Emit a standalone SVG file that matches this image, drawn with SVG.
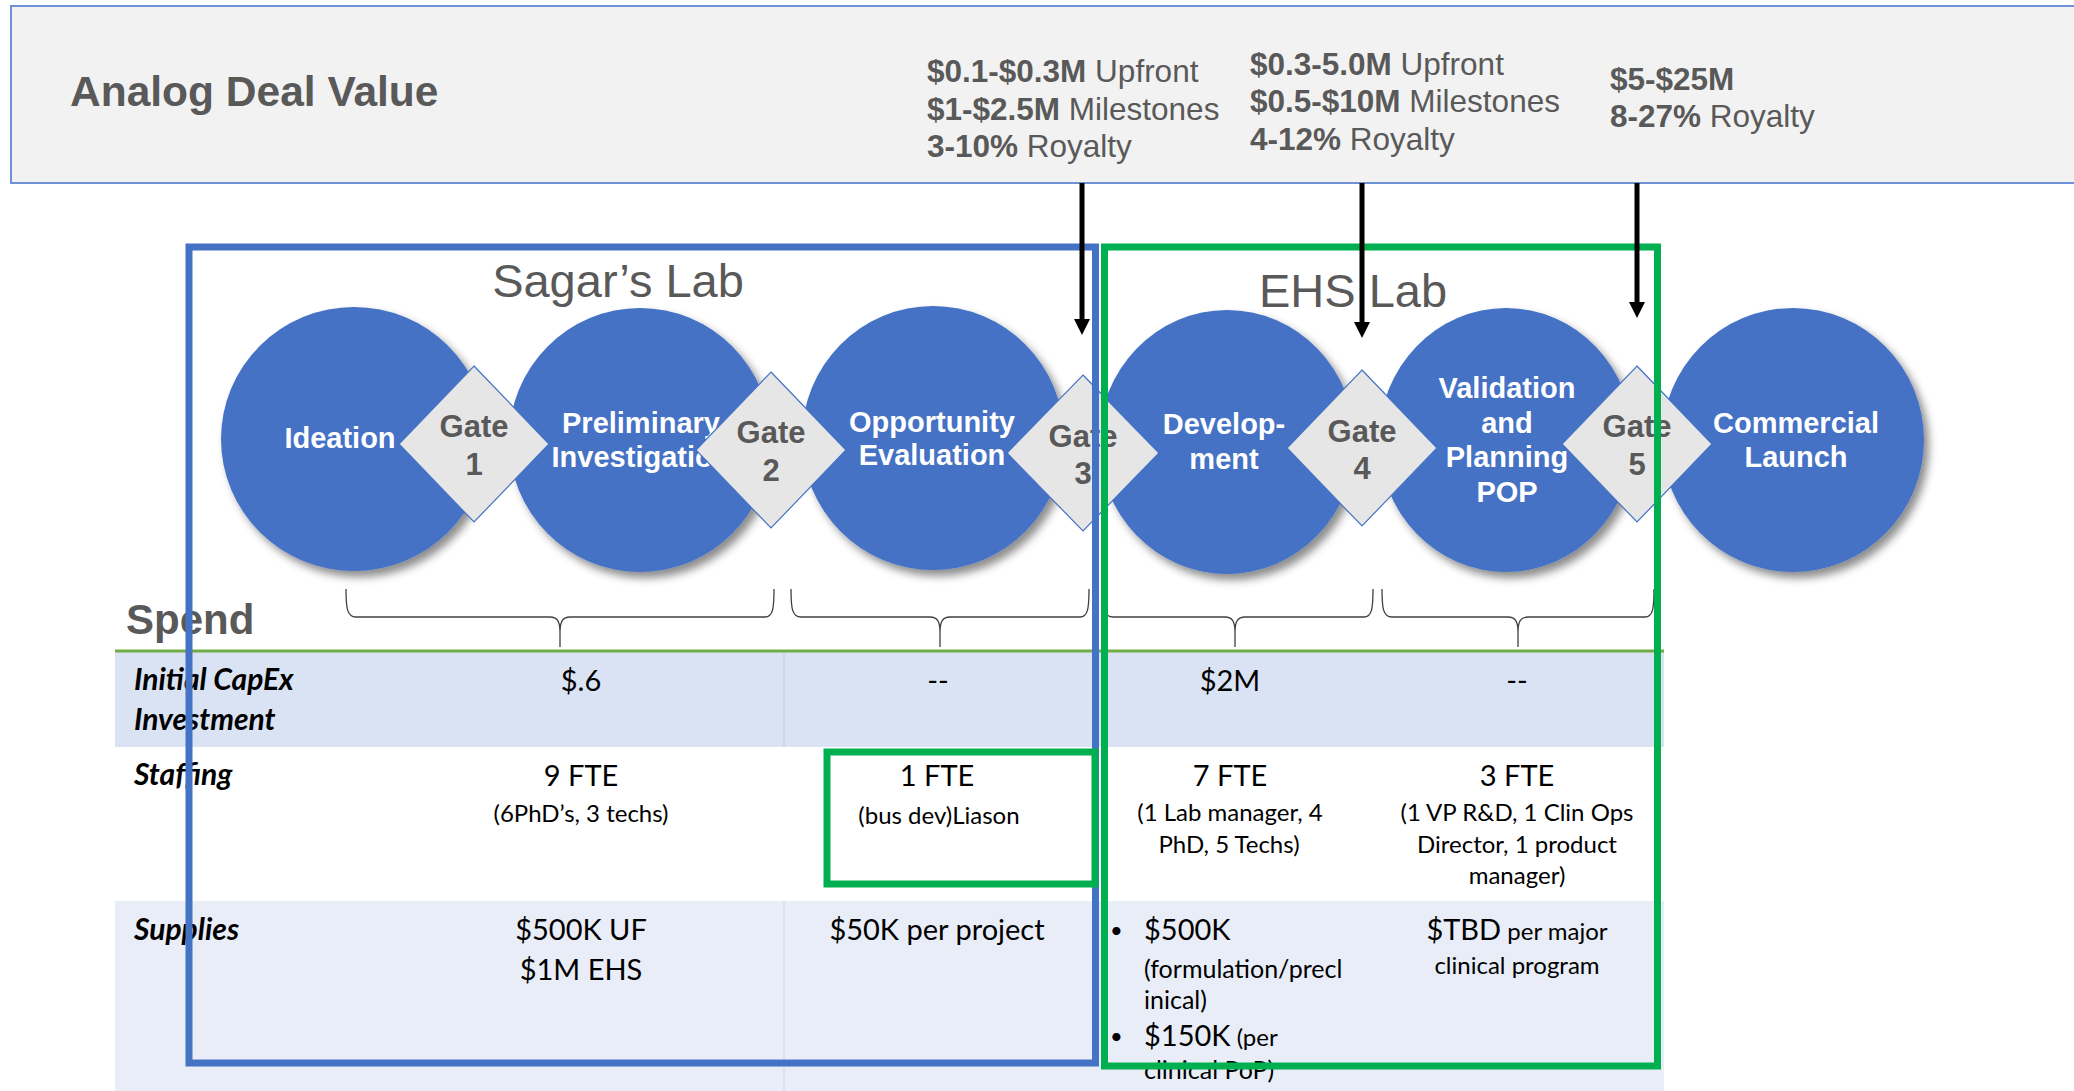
<svg xmlns="http://www.w3.org/2000/svg" width="2074" height="1091" viewBox="0 0 2074 1091">
<style>
.hdr{font-family:"Liberation Sans",Arial,sans-serif;fill:#595959;font-size:31.5px}
.b{font-weight:bold}
.title{font-family:"Liberation Sans",Arial,sans-serif;fill:#595959;font-weight:bold}
.lab{font-family:"Liberation Sans",Arial,sans-serif;fill:#595959;font-size:47px;text-anchor:middle}
.ct{font-family:"Liberation Sans",Arial,sans-serif;fill:#ffffff;font-size:29px;font-weight:bold;text-anchor:middle}
.gt{font-family:"Liberation Sans",Arial,sans-serif;fill:#595959;font-size:31px;font-weight:bold;text-anchor:middle}
.circ{fill:#4472c4;filter:url(#sh)}
.gate{fill:#e7e6e6;stroke:#4472c4;stroke-width:1.2}
.brace{fill:none;stroke:#404040;stroke-width:1.3}
.rl{font-family:Lato,"Liberation Sans",sans-serif;font-size:30px;font-weight:bold;font-style:italic;fill:#000}
.tv{font-family:Lato,"Liberation Sans",sans-serif;font-size:29px;fill:#000;text-anchor:middle}
.ts{font-family:Lato,"Liberation Sans",sans-serif;font-size:24px;fill:#000;text-anchor:middle}
.tl{font-family:Lato,"Liberation Sans",sans-serif;font-size:29px;fill:#000}
.tls{font-family:Lato,"Liberation Sans",sans-serif;font-size:25px;fill:#000}
.bul{font-family:Lato,"Liberation Sans",sans-serif;font-size:22px;fill:#000}
.arrow{stroke:#000;stroke-width:5;fill:none;marker-end:url(#ah)}
</style>
<defs>
<filter id="sh" x="-20%" y="-20%" width="150%" height="150%">
<feDropShadow dx="5" dy="6" stdDeviation="4" flood-color="#000" flood-opacity="0.45"/>
</filter>
<marker id="ah" markerUnits="userSpaceOnUse" viewBox="0 0 16 16" markerWidth="16" markerHeight="16" refX="3" refY="8" orient="auto">
<path d="M0,0 L16,8 L0,16 z" fill="#000"/>
</marker>
</defs>
<rect width="2074" height="1091" fill="#ffffff"/>

<g id="header">
<rect x="11" y="6" width="2080" height="177" fill="#f2f2f2" stroke="#6f92d6" stroke-width="2"/>
<text class="title" x="70" y="106" font-size="42.5">Analog Deal Value</text>
<text class="hdr" x="927" y="82"><tspan class="b">$0.1-$0.3M</tspan> Upfront</text>
<text class="hdr" x="927" y="120"><tspan class="b">$1-$2.5M</tspan> Milestones</text>
<text class="hdr" x="927" y="157"><tspan class="b">3-10%</tspan> Royalty</text>
<text class="hdr" x="1250" y="75"><tspan class="b">$0.3-5.0M</tspan> Upfront</text>
<text class="hdr" x="1250" y="112"><tspan class="b">$0.5-$10M</tspan> Milestones</text>
<text class="hdr" x="1250" y="150"><tspan class="b">4-12%</tspan> Royalty</text>
<text class="hdr" x="1610" y="90"><tspan class="b">$5-$25M</tspan></text>
<text class="hdr" x="1610" y="127"><tspan class="b">8-27%</tspan> Royalty</text>
</g>

<g id="lab-titles">
<text class="lab" x="618" y="297">Sagar’s Lab</text>
<text class="lab" x="1353" y="307">EHS Lab</text>
</g>

<g id="stage-ideation">
<ellipse class="circ" cx="354" cy="439" rx="133" ry="132"/>
<text class="ct" x="340" y="448">Ideation</text>
</g>
<g id="stage-preliminary">
<ellipse class="circ" cx="640" cy="440" rx="131" ry="132"/>
<text class="ct" x="641" y="433">Preliminary</text>
<text class="ct" x="641" y="467">Investigation</text>
</g>
<g id="stage-opportunity">
<ellipse class="circ" cx="933" cy="438" rx="131" ry="132"/>
<text class="ct" x="932" y="432">Opportunity</text>
<text class="ct" x="932" y="465">Evaluation</text>
</g>
<g id="stage-development">
<ellipse class="circ" cx="1227" cy="442" rx="128" ry="132"/>
<text class="ct" x="1224" y="434">Develop-</text>
<text class="ct" x="1224" y="469">ment</text>
</g>
<g id="stage-validation">
<ellipse class="circ" cx="1506" cy="440" rx="127" ry="132"/>
<text class="ct" x="1507" y="398">Validation</text>
<text class="ct" x="1507" y="433">and</text>
<text class="ct" x="1507" y="467">Planning</text>
<text class="ct" x="1507" y="502">POP</text>
</g>
<g id="stage-commercial">
<ellipse class="circ" cx="1793" cy="440" rx="131" ry="132"/>
<text class="ct" x="1796" y="433">Commercial</text>
<text class="ct" x="1796" y="467">Launch</text>
</g>

<g id="gate-1">
<polygon class="gate" points="474,366 549,444 474,522 399,444"/>
<text class="gt" x="474" y="437">Gate</text>
<text class="gt" x="474" y="475">1</text>
</g>
<g id="gate-2">
<polygon class="gate" points="771,372 846,450 771,528 696,450"/>
<text class="gt" x="771" y="443">Gate</text>
<text class="gt" x="771" y="481">2</text>
</g>
<g id="gate-3">
<polygon class="gate" points="1083,375 1159,453 1083,531 1007,453"/>
<text class="gt" x="1083" y="447">Gate</text>
<text class="gt" x="1083" y="484">3</text>
</g>
<g id="gate-4">
<polygon class="gate" points="1362,370 1437,448 1362,526 1287,448"/>
<text class="gt" x="1362" y="442">Gate</text>
<text class="gt" x="1362" y="479">4</text>
</g>
<g id="gate-5">
<polygon class="gate" points="1637,366 1712,444 1637,522 1562,444"/>
<text class="gt" x="1637" y="437">Gate</text>
<text class="gt" x="1637" y="475">5</text>
</g>

<g id="spend-braces">
<text class="title" x="126" y="634" font-size="42">Spend</text>
<path class="brace" d="M346,589 C346,608 347,617 356,617 L550,617 C557,617 560,621 560,632 L560,647 M560,632 C560,621 563,617 570,617 L765,617 C773,617 774,608 774,589"/>
<path class="brace" d="M791,589 C791,608 792,617 801,617 L930,617 C937,617 940,621 940,632 L940,647 M940,632 C940,621 943,617 950,617 L1080,617 C1088,617 1089,608 1089,589"/>
<path class="brace" d="M1103,589 C1103,608 1104,617 1113,617 L1225,617 C1232,617 1235,621 1235,632 L1235,647 M1235,632 C1235,621 1238,617 1245,617 L1364,617 C1372,617 1373,608 1373,589"/>
<path class="brace" d="M1382,589 C1382,608 1383,617 1392,617 L1508,617 C1515,617 1518,621 1518,632 L1518,647 M1518,632 C1518,621 1521,617 1528,617 L1645,617 C1653,617 1654,608 1654,589"/>
</g>

<g id="spend-table">
<rect x="115" y="652" width="1549" height="95" fill="#dae3f3"/>
<rect x="115" y="901" width="1549" height="190" fill="#e9edf7"/>
<line x1="784" y1="652" x2="784" y2="747" stroke="#c3d1ea" stroke-width="1.2"/>
<line x1="784" y1="901" x2="784" y2="1091" stroke="#cfdaee" stroke-width="1.2"/>
<line x1="115" y1="651" x2="1664" y2="651" stroke="#70ad47" stroke-width="3"/>

<text class="rl" x="134" y="690">Initial CapEx</text>
<text class="rl" x="134" y="730">Investment</text>
<text class="rl" x="134" y="785">Staffing</text>
<text class="rl" x="134" y="940">Supplies</text>

<text class="tv" x="581" y="691">$.6</text>
<text class="tv" x="938" y="691">--</text>
<text class="tv" x="1230" y="691">$2M</text>
<text class="tv" x="1517" y="691">--</text>

<text class="tv" x="581" y="786">9 FTE</text>
<text class="ts" x="581" y="822">(6PhD’s, 3 techs)</text>
<text class="tv" x="937" y="786">1 FTE</text>
<text class="ts" x="939" y="824">(bus dev)Liason</text>
<text class="tv" x="1230" y="786">7 FTE</text>
<text class="ts" x="1230" y="821">(1 Lab manager, 4</text>
<text class="ts" x="1229" y="853">PhD, 5 Techs)</text>
<text class="tv" x="1517" y="786">3 FTE</text>
<text class="ts" x="1517" y="821">(1 VP R&amp;D, 1 Clin Ops</text>
<text class="ts" x="1517" y="853">Director, 1 product</text>
<text class="ts" x="1517" y="884">manager)</text>

<text class="tv" x="581" y="940">$500K UF</text>
<text class="tv" x="581" y="980">$1M EHS</text>
<text class="tv" x="937" y="940">$50K per project</text>
<text class="bul" x="1110" y="938">•</text>
<text class="tl" x="1144" y="940">$500K</text>
<text class="tls" x="1144" y="978">(formulation/precl</text>
<text class="tls" x="1144" y="1009">inical)</text>
<text class="bul" x="1110" y="1044">•</text>
<text class="tl" x="1144" y="1046">$150K<tspan font-size="24"> (per</tspan></text>
<text class="tls" x="1144" y="1079">clinical PoP)</text>
<text class="tv" x="1517" y="940">$TBD<tspan font-size="24"> per major</tspan></text>
<text class="ts" x="1517" y="974">clinical program</text>
</g>

<g id="lab-boxes" fill="none">
<rect id="sagars-lab-box" x="189" y="247" width="906.5" height="816" stroke="#4472c4" stroke-width="7"/>
<rect id="ehs-lab-box" x="1104.5" y="247" width="553" height="819" stroke="#00b050" stroke-width="7"/>
<rect id="liaison-box" x="827" y="752" width="268" height="132" stroke="#00b050" stroke-width="7"/>
</g>

<g id="connectors">
<line class="arrow" x1="1082" y1="183" x2="1082" y2="322"/>
<line class="arrow" x1="1362" y1="183" x2="1362" y2="325"/>
<line class="arrow" x1="1637" y1="183" x2="1637" y2="305"/>
</g>
</svg>
